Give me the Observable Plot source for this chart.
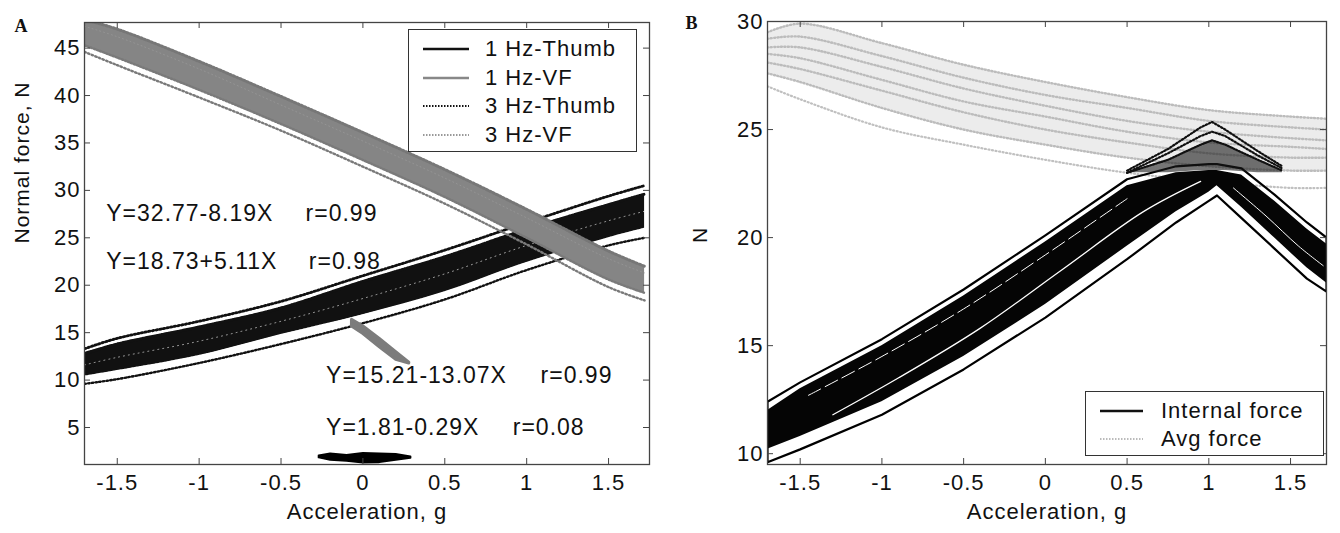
<!DOCTYPE html>
<html><head><meta charset="utf-8">
<script src="https://cdn.jsdelivr.net/npm/d3@7"></script>
<script src="https://cdn.jsdelivr.net/npm/@observablehq/plot@0.6"></script>
<style>
body{margin:0;background:#fff;font-family:"Liberation Sans",Arial,sans-serif;}
#wrap{position:relative;width:1340px;height:533px;overflow:hidden;}
.panel{position:absolute;top:0;}
.panel text{letter-spacing:1px;}
.legend{position:absolute;border:1.5px solid #333;background:#fff;box-sizing:border-box;}
.legend .row{position:absolute;left:0;right:0;height:26px;}
.legend svg{position:absolute;top:0;}
.legend span{position:absolute;font-size:22px;line-height:26px;top:0;color:#111;letter-spacing:1px;white-space:nowrap;}
</style></head><body><div id="wrap"></div>
<script>
// ---------- Panel A data ----------
const accA = [-1.7, -1.5, -1.0, -0.5, 0, 0.5, 1.0, 1.5, 1.72];
// 3 Hz-VF band (gray, dotted)
const vfTop    = [48.0, 47.0, 43.6, 39.9, 36.1, 32.2, 28.0, 23.6, 22.0];
const vfInner  = [47.3, 46.2, 42.8, 39.0, 35.2, 31.3, 27.1, 22.8, 21.3];
const vfBottom = [45.3, 44.0, 40.6, 37.0, 33.2, 29.3, 25.0, 20.6, 19.2];
const vfOuter  = [44.6, 43.2, 39.8, 36.3, 32.5, 28.6, 24.3, 19.8, 18.4];
// 3 Hz-Thumb band (black, dotted)
const thTop    = [13.3, 14.4, 16.2, 18.3, 21.0, 23.7, 26.6, 29.4, 30.5];
const thUpper  = [12.8, 13.8, 15.6, 17.6, 20.4, 23.0, 25.9, 28.5, 29.6];
const thMid    = [11.6, 12.4, 14.1, 16.2, 18.6, 21.2, 24.2, 26.8, 27.8];
const thLower  = [10.4, 11.0, 12.6, 14.8, 16.9, 19.3, 22.4, 25.0, 26.0];
const thOuter  = [9.6, 10.1, 11.8, 13.8, 16.0, 18.5, 21.6, 24.2, 25.0];
// 1 Hz-VF short streak (gray, solid)
const vf1Acc   = [-0.07, 0.0, 0.1, 0.2, 0.28];
const vf1Up    = [16.4, 15.7, 14.4, 13.0, 11.9];
const vf1Lo    = [15.7, 14.9, 13.5, 12.2, 11.8];
// 1 Hz-Thumb blob (black, solid)
const th1Acc   = [-0.27, -0.2, -0.1, 0, 0.1, 0.2, 0.29];
const th1Up    = [2.05, 2.25, 2.1, 2.3, 2.25, 2.2, 1.95];
const th1Lo    = [1.85, 1.6, 1.5, 1.3, 1.35, 1.6, 1.8];

// ---------- Panel B data ----------
const accB = [-1.7, -1.5, -1.0, -0.5, 0, 0.5, 0.8, 1.0, 1.05, 1.2, 1.4, 1.6, 1.72];
const intUpperOut = [12.4, 13.3, 15.3, 17.6, 20.1, 22.7, 23.3, 23.4, 23.4, 23.2, 22.0, 20.7, 20.0];
const intUpper    = [12.0, 13.0, 15.0, 17.3, 19.8, 22.4, 23.0, 23.1, 23.1, 22.9, 21.7, 20.4, 19.7];
const intLower    = [10.2, 10.8, 12.4, 14.5, 16.9, 19.6, 21.2, 22.1, 22.4, 21.4, 20.0, 18.6, 17.9];
const intLowerOut = [9.6, 10.2, 11.8, 13.9, 16.3, 19.0, 20.7, 21.7, 21.95, 20.9, 19.5, 18.1, 17.5];
const gapAcc1 = [-1.3, -0.9, -0.4, 0.1, 0.6, 0.95];
const gapY1   = [11.8, 13.5, 15.8, 18.5, 21.2, 22.6];
const gapAcc2 = [-1.45, -1.0, -0.5, 0, 0.5];
const gapY2   = [12.7, 14.5, 16.7, 19.2, 21.8];
const gapAcc3 = [1.15, 1.35, 1.55, 1.7];
const gapY3   = [22.3, 21.0, 19.6, 18.7];
const peakAcc = [0.5, 0.75, 0.95, 1.02, 1.1, 1.3, 1.45];
const peakY1  = [23.1, 24.1, 25.1, 25.35, 25.0, 24.0, 23.3];
const peakY2  = [23.0, 23.9, 24.7, 24.9, 24.7, 23.8, 23.2];
const peakY3  = [23.0, 23.6, 24.3, 24.5, 24.3, 23.6, 23.1];
const peakBase = [23.0, 23.0, 23.1, 23.1, 23.1, 23.0, 23.0];

const accAvg = [-1.7, -1.5, -1.0, -0.5, 0, 0.5, 1.0, 1.5, 1.72];
const avgTop    = [29.5, 29.9, 29.0, 28.0, 27.2, 26.5, 25.9, 25.6, 25.5];
const avg2      = [29.2, 29.3, 28.4, 27.4, 26.6, 26.0, 25.4, 25.1, 25.0];
const avg3      = [28.8, 28.8, 27.9, 26.9, 26.1, 25.4, 24.9, 24.6, 24.5];
const avg4      = [28.5, 28.3, 27.3, 26.3, 25.6, 24.9, 24.4, 24.2, 24.1];
const avg5      = [28.1, 27.8, 26.8, 25.8, 25.0, 24.4, 23.9, 23.7, 23.7];
const avgBottom = [27.6, 27.2, 26.0, 25.0, 24.3, 23.7, 23.3, 23.1, 23.1];
const avgOuter  = [27.0, 26.4, 25.1, 24.3, 23.6, 23.0, 22.6, 22.3, 22.3];

// ---------- ticks & labels ----------
const xTicks  = [-1.5, -1, -0.5, 0, 0.5, 1, 1.5];
const yTicksA = [5, 10, 15, 20, 25, 30, 35, 40, 45];
const yTicksB = [10, 15, 20, 25, 30];
const eqText  = ["Y=32.77-8.19X", "Y=18.73+5.11X", "Y=15.21-13.07X", "Y=1.81-0.29X"];
const rText   = ["r=0.99", "r=0.98", "r=0.99", "r=0.08"];
const legendA = [
  {label: "1 Hz-Thumb", color: "#111", dash: null, w: 2.4},
  {label: "1 Hz-VF", color: "#888", dash: null, w: 2.4},
  {label: "3 Hz-Thumb", color: "#111", dash: "1.5,1.5", w: 2},
  {label: "3 Hz-VF", color: "#999", dash: "1.5,1.5", w: 2}
];
const legendB = [
  {label: "Internal force", color: "#111", dash: null, w: 2.4},
  {label: "Avg force", color: "#bbb", dash: "1.5,1.5", w: 2}
];

// ---------- helpers ----------
const pts = (xs, ys) => xs.map((x, i) => ({x, y: ys[i]}));
const loop = (xs, up, lo) => [...pts(xs, up), ...pts(xs, lo).reverse(), {x: xs[0], y: up[0]}];
const band = (xs, lo, hi) => xs.map((x, i) => ({x, y1: lo[i], y2: hi[i]}));
const FONT = "Liberation Sans, Arial, sans-serif";
const W = 670, H = 533;
const TXT = "#111";

function frameMarks(yTicks, pw, ph) {
  return [
    Plot.frame({stroke: "#444", strokeWidth: 1.3}),
    Plot.tickX(xTicks, {x: d => d, insetTop: ph - 6, stroke: "#444"}),
    Plot.tickX(xTicks, {x: d => d, insetBottom: ph - 6, stroke: "#444"}),
    Plot.tickY(yTicks, {y: d => d, insetRight: pw - 6, stroke: "#444"}),
    Plot.tickY(yTicks, {y: d => d, insetLeft: pw - 6, stroke: "#444"}),
    Plot.axisX(xTicks, {tickSize: 0, tickPadding: 10, label: null, fontSize: 22, fill: TXT, tickFormat: d => String(d)}),
    Plot.axisY(yTicks, {tickSize: 0, tickPadding: 4, label: null, fontSize: 22, fill: TXT, tickFormat: d => String(d)})
  ];
}

// ---------- Panel A ----------
const mlA = 84, mrA = 21, mtA = 22, mbA = 69;
const pwA = W - mlA - mrA, phA = H - mtA - mbA;
const curve = "catmull-rom";
const eqAt = (i, x, y) => Plot.text([i], {x: () => x, y: () => y, text: d => eqText[d], textAnchor: "start", fontSize: 23, fill: TXT});
const rAt  = (i, x, y) => Plot.text([i], {x: () => x, y: () => y, text: d => rText[d], textAnchor: "start", fontSize: 23, fill: TXT});
const plotA = Plot.plot({
  width: W, height: H,
  marginLeft: mlA, marginRight: mrA, marginTop: mtA, marginBottom: mbA,
  style: {fontFamily: FONT, fontSize: "22px", color: TXT, background: "#fff"},
  x: {domain: [-1.7, 1.75]},
  y: {domain: [1.1, 47.7]},
  marks: [
    // 3 Hz-Thumb band (black dotted)
    Plot.areaY(band(accA, thLower, thUpper), {x: "x", y1: "y1", y2: "y2", fill: "#111", curve, clip: true}),
    Plot.line(pts(accA, thTop), {x: "x", y: "y", stroke: "#111", strokeWidth: 2.8, strokeDasharray: "1.5,2.2", curve, clip: true}),
    Plot.line(pts(accA, thUpper), {x: "x", y: "y", stroke: "#111", strokeWidth: 3, strokeDasharray: "1.5,1.2", curve, clip: true}),
    Plot.line(pts(accA, thOuter), {x: "x", y: "y", stroke: "#111", strokeWidth: 2.4, strokeDasharray: "1.5,2.2", curve, clip: true}),
    Plot.line(pts(accA, thMid), {x: "x", y: "y", stroke: "#fff", strokeOpacity: 0.6, strokeWidth: 1, strokeDasharray: "1,4", curve, clip: true}),
    Plot.line(pts(accA, thLower), {x: "x", y: "y", stroke: "#fff", strokeOpacity: 0.6, strokeWidth: 1, strokeDasharray: "1,3", curve, clip: true}),
    // 1 Hz-Thumb blob
    Plot.line(loop(th1Acc, th1Up, th1Lo), {x: "x", y: "y", stroke: "#000", fill: "#000", strokeWidth: 2, curve: "linear", clip: true}),
    // 1 Hz-VF streak
    Plot.line(loop(vf1Acc, vf1Up, vf1Lo), {x: "x", y: "y", stroke: "#7c7c7c", fill: "#7c7c7c", strokeWidth: 3, curve: "linear", clip: true}),
    // 3 Hz-VF band (gray dotted)
    Plot.areaY(band(accA, vfBottom, vfTop), {x: "x", y1: "y1", y2: "y2", fill: "#858585", curve, clip: true}),
    Plot.line(pts(accA, vfTop), {x: "x", y: "y", stroke: "#777", strokeWidth: 3, strokeDasharray: "1.5,2.2", curve, clip: true}),
    Plot.line(pts(accA, vfInner), {x: "x", y: "y", stroke: "#9a9a9a", strokeOpacity: 0.7, strokeWidth: 1, strokeDasharray: "1,3", curve, clip: true}),
    Plot.line(pts(accA, vfBottom), {x: "x", y: "y", stroke: "#7a7a7a", strokeWidth: 2.5, strokeDasharray: "1.5,1.8", curve, clip: true}),
    Plot.line(pts(accA, vfOuter), {x: "x", y: "y", stroke: "#7a7a7a", strokeWidth: 2.4, strokeDasharray: "1.5,2.4", curve, clip: true}),
    ...frameMarks(yTicksA, pwA, phA),
    // annotations
    eqAt(0, -1.567, 27.6), rAt(0, -0.35, 27.6),
    eqAt(1, -1.567, 22.45), rAt(1, -0.33, 22.45),
    eqAt(2, -0.225, 10.5), rAt(2, 1.085, 10.5),
    eqAt(3, -0.225, 5.0), rAt(3, 0.915, 5.0),
    Plot.text(["Acceleration, g"], {text: d => d, frameAnchor: "bottom", dy: 54, fontSize: 22, fill: TXT}),
    Plot.text(["Normal force, N"], {text: d => d, frameAnchor: "left", dx: -62, rotate: -90, fontSize: 21, fill: TXT}),
    Plot.text(["A"], {text: d => d, frameAnchor: "top-left", dx: -70, dy: -3, fontSize: 18, fontWeight: "bold", fontFamily: "Liberation Serif, serif", fill: TXT})
  ]
});

// ---------- Panel B ----------
const mlB = 97, mrB = 14, mtB = 21, mbB = 69;
const pwB = W - mlB - mrB, phB = H - mtB - mbB;
const plotB = Plot.plot({
  width: W, height: H,
  marginLeft: mlB, marginRight: mrB, marginTop: mtB, marginBottom: mbB,
  style: {fontFamily: FONT, fontSize: "22px", color: TXT, background: "transparent"},
  x: {domain: [-1.7, 1.72]},
  y: {domain: [9.5, 30]},
  marks: [
    // Avg force (light gray dotted)
    Plot.areaY(band(accAvg, avgBottom, avgTop), {x: "x", y1: "y1", y2: "y2", fill: "#d4d4d4", fillOpacity: 0.45, curve, clip: true}),
    ...[avgTop, avg2, avg3, avg4, avg5, avgBottom].map(ys =>
      Plot.line(pts(accAvg, ys), {x: "x", y: "y", stroke: "#bcbcbc", strokeWidth: 2.4, strokeDasharray: "1,2.4", curve, clip: true})),
    Plot.line(pts(accAvg, avgOuter), {x: "x", y: "y", stroke: "#c0c0c0", strokeWidth: 2.2, strokeDasharray: "1,2.6", curve, clip: true}),
    // Internal force (black solid loops)
    Plot.line(loop(accB, intUpperOut, intLowerOut), {x: "x", y: "y", stroke: "#000", strokeWidth: 2.2, curve: "linear", clip: true}),
    Plot.areaY(band(accB, intLower, intUpper), {x: "x", y1: "y1", y2: "y2", fill: "#050505", curve: "linear", clip: true}),
    Plot.line(pts(gapAcc1, gapY1), {x: "x", y: "y", stroke: "#fff", strokeWidth: 1.3, curve, clip: true}),
    Plot.line(pts(gapAcc2, gapY2), {x: "x", y: "y", stroke: "#fff", strokeWidth: 1, strokeDasharray: "14,5", curve, clip: true}),
    Plot.line(pts(gapAcc3, gapY3), {x: "x", y: "y", stroke: "#fff", strokeWidth: 1, curve, clip: true}),
    Plot.areaY(band(peakAcc, peakBase, peakY3), {x: "x", y1: "y1", y2: "y2", fill: "#1a1a1a", fillOpacity: 0.6, curve: "linear", clip: true}),
    Plot.line(pts(peakAcc, peakY1), {x: "x", y: "y", stroke: "#111", strokeWidth: 2.2, strokeDasharray: "1.5,2", curve: "linear", clip: true}),
    Plot.line(pts(peakAcc, peakY2), {x: "x", y: "y", stroke: "#111", strokeWidth: 2.2, strokeDasharray: "1.5,2", curve: "linear", clip: true}),
    Plot.line(pts(peakAcc, peakY3), {x: "x", y: "y", stroke: "#111", strokeWidth: 2.2, strokeDasharray: "1.5,1.5", curve: "linear", clip: true}),
    ...frameMarks(yTicksB, pwB, phB),
    Plot.text(["Acceleration, g"], {text: d => d, frameAnchor: "bottom", dy: 54, fontSize: 22, fill: TXT}),
    Plot.text(["N"], {text: d => d, frameAnchor: "left", dx: -67, rotate: -90, fontSize: 21, fill: TXT}),
    Plot.text(["B"], {text: d => d, frameAnchor: "top-left", dx: -82, dy: -5, fontSize: 18, fontWeight: "bold", fontFamily: "Liberation Serif, serif", fill: TXT})
  ]
});

// ---------- assemble ----------
const wrap = document.getElementById("wrap");
plotA.classList.add("panel"); plotA.style.left = "0px";
plotB.classList.add("panel"); plotB.style.left = "670px";
wrap.appendChild(plotA); wrap.appendChild(plotB);

function makeLegend(items, left, top, width, height, rowTop, rowStep, sx0, sx1, textX) {
  const box = document.createElement("div");
  box.className = "legend";
  Object.assign(box.style, {left: left + "px", top: top + "px", width: width + "px", height: height + "px"});
  items.forEach((it, i) => {
    const row = document.createElement("div");
    row.className = "row";
    row.style.top = (rowTop + i * rowStep - 13) + "px";
    const svg = document.createElementNS("http://www.w3.org/2000/svg", "svg");
    svg.setAttribute("width", width); svg.setAttribute("height", 26);
    const ln = document.createElementNS("http://www.w3.org/2000/svg", "line");
    ln.setAttribute("x1", sx0); ln.setAttribute("x2", sx1); ln.setAttribute("y1", 13); ln.setAttribute("y2", 13);
    ln.setAttribute("stroke", it.color); ln.setAttribute("stroke-width", it.w);
    if (it.dash) ln.setAttribute("stroke-dasharray", it.dash);
    svg.appendChild(ln);
    const sp = document.createElement("span");
    sp.textContent = it.label; sp.style.left = textX + "px";
    row.appendChild(svg); row.appendChild(sp);
    box.appendChild(row);
  });
  wrap.appendChild(box);
}
makeLegend(legendA, 408, 29, 229, 123, 19, 28.5, 14, 60, 76);
makeLegend(legendB, 1085, 391, 239, 65, 19, 28, 14, 57, 75);
</script></body></html>
